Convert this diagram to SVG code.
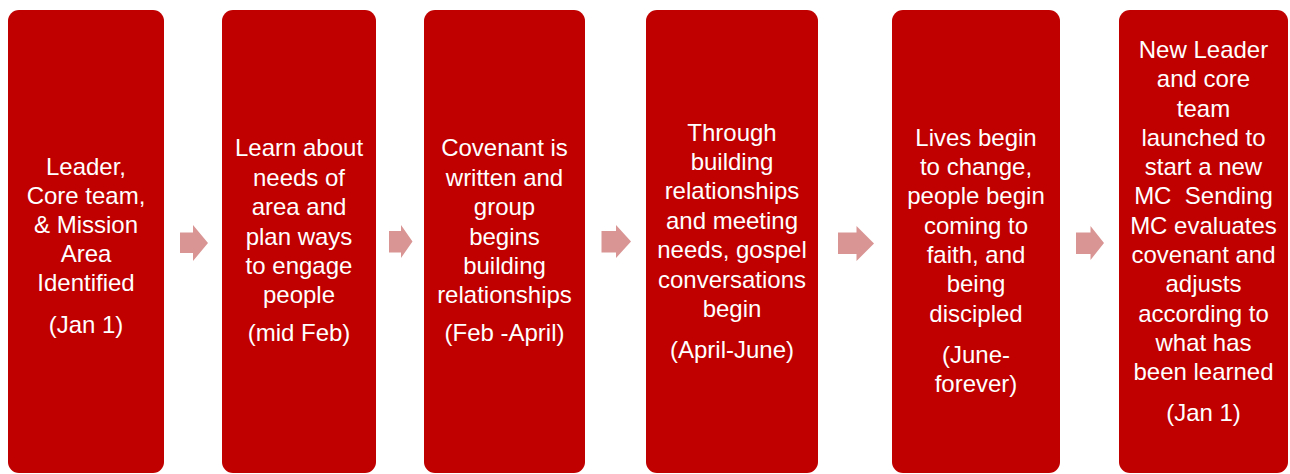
<svg xmlns="http://www.w3.org/2000/svg" width="1290" height="474" viewBox="0 0 1290 474">
<style>
.box{fill:#C00000;}
.arr{fill:#D99594;}
text{font-family:"Liberation Sans",Arial,sans-serif;font-size:24px;fill:#FFFFFF;text-anchor:middle;white-space:pre;}
</style>
<rect width="1290" height="474" fill="#FFFFFF"/>
<g id="connectors">
<polygon class="arr" points="180,232.5 193,232.5 193,225 208,243 193,261 193,253 180,253"/>
<polygon class="arr" points="389,231 401,231 401,225 412.5,241.5 401,258 401,252.5 389,252.5"/>
<polygon class="arr" points="601.5,231 616,231 616,225 631,241.5 616,258 616,252.5 601.5,252.5"/>
<polygon class="arr" points="838,232.5 856.5,232.5 856.5,226 874,243.5 856.5,261 856.5,254 838,254"/>
<polygon class="arr" points="1076,232.5 1090.5,232.5 1090.5,226 1104,243 1090.5,260 1090.5,254 1076,254"/>
</g>
<g id="node1">
<rect class="box" x="8" y="10" width="156" height="463" rx="11"/>
<text x="86" y="174.5">Leader,</text>
<text x="86" y="203.5">Core team,</text>
<text x="86" y="232.5">&amp; Mission</text>
<text x="86" y="261.5">Area</text>
<text x="86" y="290.5">Identified</text>
<text x="86" y="332.5">(Jan 1)</text>
</g>
<g id="node2">
<rect class="box" x="222" y="10" width="154" height="463" rx="11"/>
<text x="299" y="155.5">Learn about</text>
<text x="299" y="185.5">needs of</text>
<text x="299" y="214.5">area and</text>
<text x="299" y="244.5">plan ways</text>
<text x="299" y="273.5">to engage</text>
<text x="299" y="302.5">people</text>
<text x="299" y="340.5">(mid Feb)</text>
</g>
<g id="node3">
<rect class="box" x="424" y="10" width="161" height="463" rx="11"/>
<text x="504.5" y="155.5">Covenant is</text>
<text x="504.5" y="185.5">written and</text>
<text x="504.5" y="214.5">group</text>
<text x="504.5" y="244.5">begins</text>
<text x="504.5" y="273.5">building</text>
<text x="504.5" y="302.5">relationships</text>
<text x="504.5" y="340.5">(Feb -April)</text>
</g>
<g id="node4">
<rect class="box" x="646" y="10" width="172" height="463" rx="11"/>
<text x="732" y="140.5">Through</text>
<text x="732" y="169.5">building</text>
<text x="732" y="198.5">relationships</text>
<text x="732" y="228.5">and meeting</text>
<text x="732" y="257.5">needs, gospel</text>
<text x="732" y="287.5">conversations</text>
<text x="732" y="316.5">begin</text>
<text x="732" y="357.5">(April-June)</text>
</g>
<g id="node5">
<rect class="box" x="892" y="10" width="168" height="463" rx="11"/>
<text x="976" y="145.5">Lives begin</text>
<text x="976" y="174.5">to change,</text>
<text x="976" y="203.5">people begin</text>
<text x="976" y="233.5">coming to</text>
<text x="976" y="262.5">faith, and</text>
<text x="976" y="291.5">being</text>
<text x="976" y="321.5">discipled</text>
<text x="976" y="362.5">(June-</text>
<text x="976" y="391.5">forever)</text>
</g>
<g id="node6">
<rect class="box" x="1119" y="10" width="169" height="463" rx="11"/>
<text x="1203.5" y="58">New Leader</text>
<text x="1203.5" y="87">and core</text>
<text x="1203.5" y="117">team</text>
<text x="1203.5" y="146">launched to</text>
<text x="1203.5" y="175">start a new</text>
<text x="1203.5" y="204">MC  Sending</text>
<text x="1203.5" y="234">MC evaluates</text>
<text x="1203.5" y="263">covenant and</text>
<text x="1203.5" y="292">adjusts</text>
<text x="1203.5" y="322">according to</text>
<text x="1203.5" y="351">what has</text>
<text x="1203.5" y="380">been learned</text>
<text x="1203.5" y="420.5">(Jan 1)</text>
</g>
</svg>
